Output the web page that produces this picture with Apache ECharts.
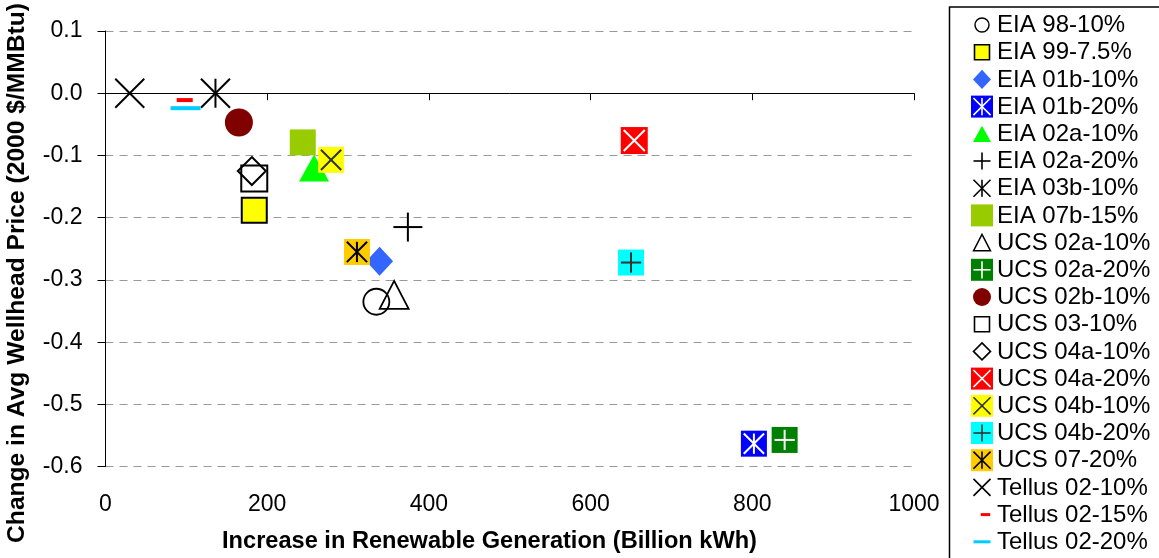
<!DOCTYPE html>
<html>
<head>
<meta charset="utf-8">
<script src="https://cdn.jsdelivr.net/npm/echarts@6/dist/echarts.min.js"></script>
<style>
  html, body { margin: 0; padding: 0; background: #fff; }
  #chart { width: 1159px; height: 558px; }
</style>
</head>
<body>
<div id="chart"></div>
<script>
// Study scenarios: increase in renewable generation vs. change in wellhead gas price
const seriesNames = [
  'EIA 98-10%', 'EIA 99-7.5%', 'EIA 01b-10%', 'EIA 01b-20%', 'EIA 02a-10%',
  'EIA 02a-20%', 'EIA 03b-10%', 'EIA 07b-15%', 'UCS 02a-10%', 'UCS 02a-20%',
  'UCS 02b-10%', 'UCS 03-10%', 'UCS 04a-10%', 'UCS 04a-20%', 'UCS 04b-10%',
  'UCS 04b-20%', 'UCS 07-20%', 'Tellus 02-10%', 'Tellus 02-15%', 'Tellus 02-20%'
];
// Billion kWh
const generation = [335, 184, 339, 802, 258, 374, 136, 244, 357, 840,
                    165, 184, 181, 654, 279, 650, 311, 30, 98, 99];
// 2000 $/MMBtu
const priceChange = [-0.335, -0.188, -0.270, -0.563, -0.120, -0.215, 0.000, -0.079, -0.324, -0.557,
                     -0.047, -0.137, -0.125, -0.076, -0.107, -0.272, -0.255, 0.000, -0.011, -0.024];

const xMin = 0, xMax = 1000, xStep = 200;
const yMin = -0.6, yMax = 0.1, yStep = 0.1;

// Marker appearance per series (plot size / legend size)
const markers = [
  { shape: 'circle',   fill: 'none',    stroke: '#000', lw: 1.8, w: 26, lgw: 14 },
  { shape: 'rect',     fill: '#FFFF00', stroke: '#000', lw: 2,   w: 25, lgw: 15 },
  { shape: 'diamond',  fill: '#3366FF', w: 27, h: 29, lgw: 18 },
  { shape: 'box',      fill: '#0000FF', glyph: 'asterisk', gc: '#fff', w: 26, lgw: 22 },
  { shape: 'triangle', fill: '#00FF00', w: 30, h: 27, lgw: 18 },
  { shape: 'plus',     stroke: '#000', lw: 2, w: 29, lgw: 17 },
  { shape: 'asterisk', stroke: '#000', lw: 2, w: 29, lgw: 17 },
  { shape: 'rect',     fill: '#99CC00', w: 26, lgw: 22 },
  { shape: 'triangle', fill: 'none', stroke: '#000', lw: 1.8, w: 29, h: 28, lgw: 17 },
  { shape: 'box',      fill: '#008000', glyph: 'plus', gc: '#fff', w: 26, lgw: 22 },
  { shape: 'circle',   fill: '#800000', w: 28, lgw: 18 },
  { shape: 'rect',     fill: 'none', stroke: '#000', lw: 2, w: 26, lgw: 15 },
  { shape: 'diamond',  fill: 'none', stroke: '#000', lw: 2, w: 28, h: 28, lgw: 17 },
  { shape: 'box',      fill: '#FF0000', glyph: 'x', gc: '#fff', w: 27, lgw: 22 },
  { shape: 'box',      fill: '#FFFF00', glyph: 'x', gc: '#333', w: 26, lgw: 22 },
  { shape: 'box',      fill: '#00FFFF', glyph: 'plus', gc: '#333', w: 26, lgw: 22 },
  { shape: 'box',      fill: '#FFCC00', glyph: 'asterisk', gc: '#000', w: 26, lgw: 22 },
  { shape: 'x',        stroke: '#000', lw: 2, w: 29, lgw: 17 },
  { shape: 'dash',     fill: '#FF0000', w: 16, h: 4, lgw: 9.5, lgh: 3 },
  { shape: 'dash',     fill: '#00CCFF', w: 30, h: 4, lgw: 17, lgh: 3 }
];

function glyphLines(kind, cx, cy, s, color, lw) {
  const h = s / 2;
  const segs = [];
  if (kind === 'x' || kind === 'asterisk') {
    segs.push([cx - h, cy - h, cx + h, cy + h], [cx - h, cy + h, cx + h, cy - h]);
  }
  if (kind === 'asterisk') segs.push([cx, cy - h, cx, cy + h]);
  if (kind === 'plus') segs.push([cx - h, cy, cx + h, cy], [cx, cy - h, cx, cy + h]);
  return segs.map(s2 => ({
    type: 'line',
    shape: { x1: s2[0], y1: s2[1], x2: s2[2], y2: s2[3] },
    style: { stroke: color, lineWidth: lw }
  }));
}

// Builds the drawable pieces of one marker centred on (cx, cy)
function markerElements(m, cx, cy, w, h, scale) {
  const hw = w / 2, hh = h / 2;
  const lw = (m.lw || 2) * scale;
  const style = { fill: m.fill || 'none', stroke: m.stroke || null, lineWidth: m.stroke ? lw : 0 };
  switch (m.shape) {
    case 'circle':
      return [{ type: 'circle', shape: { cx, cy, r: hw }, style }];
    case 'rect':
    case 'dash':
      return [{ type: 'rect', shape: { x: cx - hw, y: cy - hh, width: w, height: h }, style }];
    case 'diamond':
      return [{ type: 'polygon', shape: { points: [[cx, cy - hh], [cx + hw, cy], [cx, cy + hh], [cx - hw, cy]] }, style }];
    case 'triangle':
      return [{ type: 'polygon', shape: { points: [[cx, cy - hh], [cx + hw, cy + hh], [cx - hw, cy + hh]] }, style }];
    case 'box':
      return [{ type: 'rect', shape: { x: cx - hw, y: cy - hh, width: w, height: h }, style: { fill: m.fill } }]
        .concat(glyphLines(m.glyph, cx, cy, w * 0.78, m.gc, 2 * scale));
    default:
      return glyphLines(m.shape, cx, cy, w, m.stroke, lw);
  }
}

const series = seriesNames.map((name, i) => ({
  name,
  type: 'custom',
  xAxisIndex: 0,
  yAxisIndex: 0,
  silent: true,
  data: [[generation[i], priceChange[i]]],
  encode: { x: 0, y: 1 },
  renderItem: (params, api) => {
    const p = api.coord([api.value(0), api.value(1)]);
    const m = markers[i];
    return { type: 'group', children: markerElements(m, p[0], p[1], m.w, m.h || m.w, 1) };
  }
}));

// Legend panel on the right
const FONT = '"Liberation Sans", Arial, Helvetica, sans-serif';
const legendChildren = [{
  type: 'rect',
  shape: { x: 949.5, y: 7, width: 260, height: 600 },
  style: { fill: '#fff', stroke: '#000', lineWidth: 1.5 }
}];
seriesNames.forEach((name, i) => {
  const m = markers[i];
  const rowY = 25 + 27.2 * i;
  const lw = m.lgw;
  const lh = m.lgh || (m.h ? m.lgw * m.h / m.w : m.lgw);
  const iconX = m.shape === 'dash' && lw < 12 ? 985.5 : 982;
  legendChildren.push(...markerElements(m, iconX, rowY, lw, lh, 0.8));
  legendChildren.push({
    type: 'text',
    x: 997,
    y: rowY + 0.5,
    style: { text: name, fill: '#000', font: '24px ' + FONT, align: 'left', verticalAlign: 'middle' }
  });
});

const chart = echarts.init(document.getElementById('chart'), null, { renderer: 'canvas' });
chart.setOption({
  animation: false,
  backgroundColor: '#fff',
  grid: { left: 105.5, top: 31, right: 245, bottom: 91.3, containLabel: false },
  xAxis: [
    {
      type: 'value', min: xMin, max: xMax, interval: xStep, position: 'bottom',
      axisLine: { show: false, onZero: false },
      axisTick: { show: false },
      splitLine: { show: false },
      axisLabel: { color: '#000', fontSize: 23, fontFamily: FONT, margin: 26, formatter: v => String(v) }
    },
    {
      type: 'value', min: xMin, max: xMax, interval: xStep, position: 'bottom',
      axisLine: { show: true, onZero: true, lineStyle: { color: '#000', width: 1 } },
      axisTick: { show: true, length: 7, lineStyle: { color: '#000' } },
      splitLine: { show: false },
      axisLabel: { show: false }
    }
  ],
  yAxis: {
    type: 'value', min: yMin, max: yMax, interval: yStep,
    axisLine: { show: true, onZero: false, lineStyle: { color: '#000', width: 1 } },
    axisTick: { show: true, length: 8, lineStyle: { color: '#000' } },
    splitLine: { show: true, lineStyle: { color: '#999', type: [8, 6], width: 1 } },
    axisLabel: {
      color: '#000', fontSize: 23, fontFamily: FONT, margin: 23,
      formatter: v => (Math.abs(v) < 1e-9 ? 0 : v).toFixed(1)
    }
  },
  graphic: [
    { type: 'group', x: 0, y: 0, children: legendChildren },
    {
      type: 'text', x: 489.5, y: 541,
      style: { text: 'Increase in Renewable Generation (Billion kWh)', fill: '#000',
               font: 'bold 23.6px ' + FONT, align: 'center', verticalAlign: 'middle' }
    },
    {
      type: 'text', x: 17, y: 273, rotation: Math.PI / 2,
      style: { text: 'Change in Avg Wellhead Price (2000 $/MMBtu)', fill: '#000',
               font: 'bold 24.6px ' + FONT, align: 'center', verticalAlign: 'middle' }
    }
  ],
  series
});
</script>
</body>
</html>
